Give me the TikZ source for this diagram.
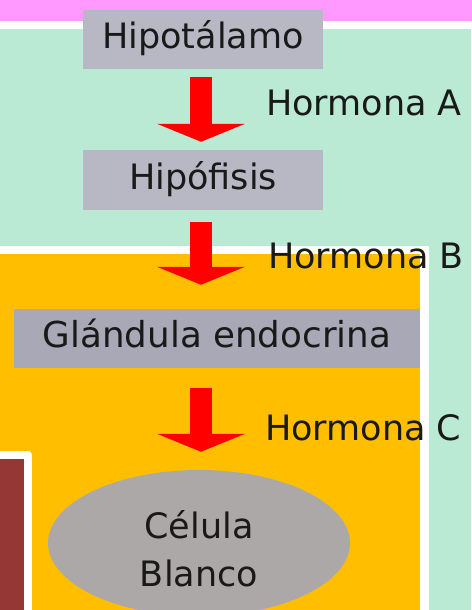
\documentclass[tikz,border=0pt]{standalone}
\usepackage{fontspec}
\setmainfont{DejaVu Sans}
\usetikzlibrary{arrows.meta,shapes.geometric}
\definecolor{pinkbg}{RGB}{255,153,255}
\definecolor{mintbg}{RGB}{187,234,212}
\definecolor{orangebg}{RGB}{255,191,0}
\definecolor{darkred}{RGB}{149,55,53}
\definecolor{boxgray}{RGB}{184,184,196}
\definecolor{boxgraytwo}{RGB}{168,168,182}
\definecolor{cellgray}{RGB}{173,168,168}
\definecolor{arrowred}{RGB}{255,0,0}
\definecolor{txtcol}{RGB}{25,25,25}
\begin{document}
\begin{tikzpicture}[x=1pt,y=-1pt,
  txt/.style={font=\fontsize{35}{48}\selectfont, text=txtcol},
  organ/.style={txt, fill=#1, inner sep=0pt, text height=26pt, text depth=8pt},
  cellnode/.style={txt, ellipse, fill=cellgray, inner sep=0pt, align=center,
    minimum width=302pt, minimum height=146pt},
  hormlabel/.style={txt, anchor=base west, inner sep=0pt},
  bigarrow/.style={arrowred, line width=22pt,
    -{Triangle[width=88pt,length=18pt,line width=0pt]}},
  whiteedge/.style={white, line width=8.5pt}
]
\useasboundingbox (0,0) rectangle (471,610);
% backgrounds
\fill[mintbg] (0,0) rectangle (471,610);
\draw[whiteedge, fill=pinkbg] (-20,-20) rectangle (491,24.8);
\draw[whiteedge, fill=orangebg] (-20,250) rectangle (424.6,640);
\draw[white, line width=8pt, line join=round, fill=darkred] (-20,455) rectangle (28,640);
% nodes
\node[organ=boxgray, minimum width=240pt, minimum height=59pt] (hipo) at (203,39.5) {Hipotálamo\hspace{12pt}};
\node[organ=boxgray, minimum width=240pt, minimum height=60pt] (hipof) at (203,180) {Hipófisis\hspace{12pt}};
\node[organ=boxgraytwo, minimum width=406pt, minimum height=59pt] (glan) at (217,338.5) {\fontsize{35.7}{48}\selectfont Glándula endocrina\hspace{18pt}};
\node[cellnode] (cel) at (199,543) {\rule{0pt}{40pt}Célula\\Blanco};
% arrows
\draw[bigarrow, shorten <=8pt, shorten >=8pt] ([xshift=-2pt]hipo.south) -- ([xshift=-2pt]hipof.north);
\draw[bigarrow, shorten <=12pt, shorten >=24pt] ([xshift=-2pt]hipof.south) -- ([xshift=-2pt]hipof.south |- glan.north);
\draw[bigarrow, shorten <=20pt, shorten >=18pt] ([xshift=-2pt]hipof.south |- glan.south) -- ([xshift=-2pt]hipof.south |- cel.north);
% labels
\node[hormlabel] (ha) at (266,115) {Hormona A};
\node[hormlabel] (hb) at (268,268) {Hormona B};
\node[hormlabel] (hc) at (265,440) {Hormona C};
\end{tikzpicture}
\end{document}
